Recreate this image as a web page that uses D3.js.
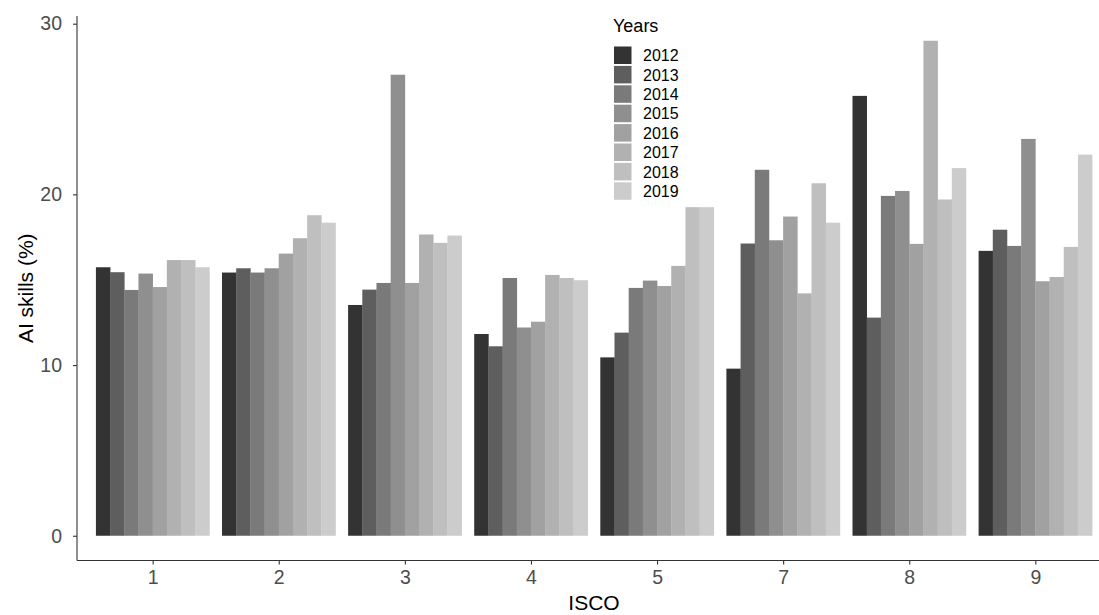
<!DOCTYPE html>
<html>
<head>
<meta charset="utf-8">
<script src="https://cdn.jsdelivr.net/npm/d3@7"></script>
<style>
  html, body { margin: 0; padding: 0; background: #fff; }
  svg { display: block; font-family: "Liberation Sans", Arial, sans-serif; }
</style>
</head>
<body>
<svg id="chart" width="1099" height="615"></svg>
<script>
const categories = ["1", "2", "3", "4", "5", "7", "8", "9"];
const years = ["2012", "2013", "2014", "2015", "2016", "2017", "2018", "2019"];
const yTicks = [0, 10, 20, 30];
// values per ISCO group, one entry per year 2012..2019: AI skills (%)
const isco1 = [15.73, 15.44, 14.40, 15.36, 14.57, 16.15, 16.15, 15.73];
const isco2 = [15.42, 15.67, 15.42, 15.67, 16.53, 17.43, 18.78, 18.34];
const isco3 = [13.52, 14.42, 14.81, 27.01, 14.81, 17.65, 17.16, 17.59];
const isco4 = [11.82, 11.10, 15.10, 12.20, 12.54, 15.28, 15.10, 14.97];
const isco5 = [10.45, 11.90, 14.52, 14.95, 14.63, 15.81, 19.25, 19.25];
const isco7 = [9.79, 17.12, 21.44, 17.31, 18.70, 14.20, 20.65, 18.34];
const isco8 = [25.77, 12.78, 19.91, 20.20, 17.10, 29.00, 19.70, 21.54];
const isco9 = [16.69, 17.93, 16.98, 23.25, 14.91, 15.16, 16.92, 22.33];
const seriesByGroup = [isco1, isco2, isco3, isco4, isco5, isco7, isco8, isco9];
const greys = ["#333333", "#5E5E5E", "#7A7A7A", "#8F8F8F", "#A1A1A1", "#B1B1B1", "#BFBFBF", "#CCCCCC"];

const rows = [];
categories.forEach((c, gi) => years.forEach((yr, yi) => rows.push({ isco: c, year: yr, value: seriesByGroup[gi][yi] })));

const svg = d3.select("#chart");
const panel = { left: 77, right: 1111, top: 16, bottom: 560.5 };

// discrete x scale with ggplot-like 0.6 expansion on each side
const n = categories.length;
const step = (panel.right - panel.left) / (n - 1 + 1.2);
const x = d3.scalePoint().domain(categories).range([panel.left + 0.6 * step, panel.right - 0.6 * step]);
const groupW = 0.9 * step;
const xInner = d3.scaleBand().domain(years).range([-groupW / 2, groupW / 2]).padding(0);

const maxV = d3.max(rows, d => d.value);
const y = d3.scaleLinear().domain([-0.05 * maxV, maxV * 1.05]).range([panel.bottom, panel.top]);
const color = d3.scaleOrdinal().domain(years).range(greys);

// bars
svg.append("g").selectAll("rect").data(rows).join("rect")
  .attr("x", d => x(d.isco) + xInner(d.year))
  .attr("width", xInner.bandwidth() + 0.3)
  .attr("y", d => y(d.value))
  .attr("height", d => y(0) - y(d.value))
  .attr("fill", d => color(d.year));

// y axis
const yAxis = svg.append("g").attr("transform", `translate(${panel.left},0)`)
  .call(d3.axisLeft(y).tickValues(yTicks).tickSize(4).tickPadding(11));
yAxis.select(".domain").attr("d", `M0,${panel.top}V${panel.bottom}`).attr("stroke", "#333").attr("stroke-width", 1.1);
yAxis.selectAll(".tick line").attr("stroke", "#333").attr("stroke-width", 1.1);
yAxis.selectAll(".tick text").attr("fill", "#4D4D4D").style("font-size", "19.5px");

// x axis
const xAxis = svg.append("g").attr("transform", `translate(0,${panel.bottom})`)
  .call(d3.axisBottom(x).tickSize(4).tickPadding(6));
xAxis.select(".domain").attr("d", `M${panel.left},0H${panel.right}`).attr("stroke", "#333").attr("stroke-width", 1.1);
xAxis.selectAll(".tick line").attr("stroke", "#333").attr("stroke-width", 1.1);
xAxis.selectAll(".tick text").attr("fill", "#4D4D4D").style("font-size", "19.5px");

// axis titles
svg.append("text").attr("x", (panel.left + panel.right) / 2).attr("y", 610)
  .attr("text-anchor", "middle").style("font-size", "21px").attr("fill", "#000").text("ISCO");
svg.append("text").attr("transform", `translate(33,${(panel.top + panel.bottom) / 2}) rotate(-90)`)
  .attr("text-anchor", "middle").style("font-size", "21px").attr("fill", "#000").text("AI skills (%)");

// legend
const lg = svg.append("g").attr("transform", "translate(613,0)");
lg.append("text").attr("x", 0).attr("y", 32).style("font-size", "18px").attr("fill", "#000").text("Years");
const item = lg.selectAll("g.item").data(years).join("g").attr("class", "item")
  .attr("transform", (d, i) => `translate(0,${46.5 + i * 19.4})`);
item.append("rect").attr("x", 1).attr("y", 0).attr("width", 17.5).attr("height", 17.5).attr("fill", d => color(d));
item.append("text").attr("x", 30).attr("y", 9).attr("dy", "0.36em").style("font-size", "16px").attr("fill", "#000").text(d => d);
</script>
</body>
</html>
